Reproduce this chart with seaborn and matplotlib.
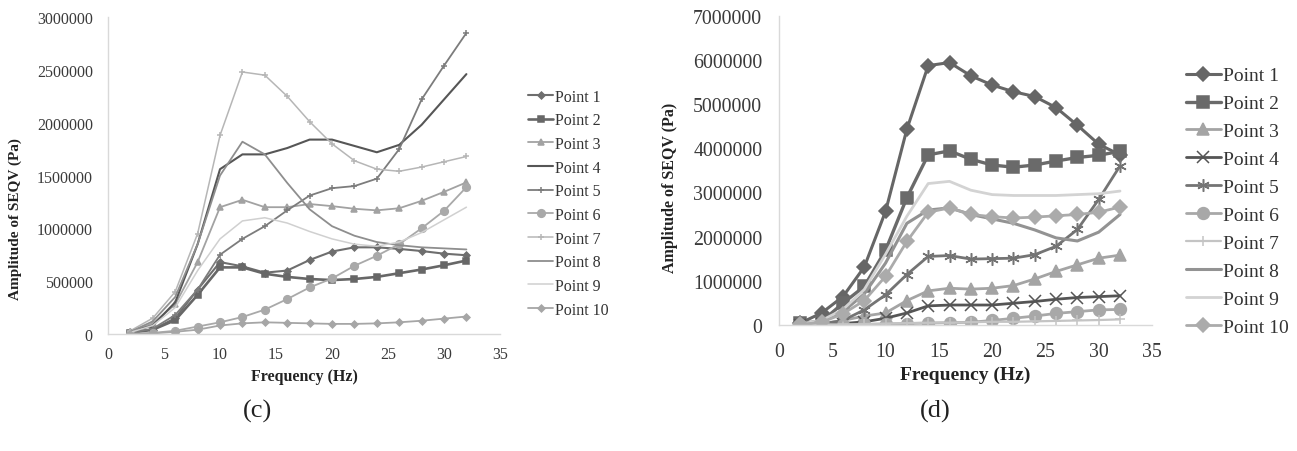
"""
Amplitude of SEQV vs frequency at ten measuring points, panels (c) and (d).
"""

import numpy as np
import pandas as pd
import matplotlib
matplotlib.use("Agg")
import matplotlib.pyplot as plt
import seaborn as sns

# ---------------------------------------------------------------- data
freq = [2, 4, 6, 8, 10, 12, 14, 16, 18, 20, 22, 24, 26, 28, 30, 32]
names = [f"Point {i}" for i in range(1, 11)]

# panel (c)
c_p1 = [20000, 40000, 150000, 420000, 680000, 640000, 580000, 600000, 700000, 780000, 820000, 820000, 805000, 785000, 760000, 745000]
c_p2 = [10000, 40000, 130000, 370000, 630000, 630000, 570000, 540000, 520000, 510000, 520000, 540000, 575000, 610000, 650000, 695000]
c_p3 = [20000, 100000, 280000, 680000, 1200000, 1270000, 1200000, 1200000, 1230000, 1210000, 1185000, 1170000, 1190000, 1260000, 1345000, 1435000]
c_p4 = [20000, 80000, 300000, 850000, 1560000, 1700000, 1700000, 1760000, 1840000, 1840000, 1780000, 1720000, 1790000, 1980000, 2220000, 2460000]
c_p5 = [10000, 50000, 180000, 420000, 750000, 900000, 1020000, 1170000, 1310000, 1380000, 1400000, 1470000, 1750000, 2220000, 2540000, 2850000]
c_p6 = [0, 10000, 30000, 70000, 110000, 160000, 230000, 330000, 440000, 525000, 645000, 740000, 850000, 1000000, 1165000, 1390000]
c_p7 = [30000, 150000, 400000, 950000, 1880000, 2480000, 2450000, 2250000, 2010000, 1800000, 1640000, 1560000, 1540000, 1580000, 1630000, 1680000]
c_p8 = [20000, 120000, 350000, 850000, 1500000, 1820000, 1700000, 1430000, 1180000, 1020000, 930000, 870000, 840000, 820000, 810000, 800000]
c_p9 = [15000, 80000, 250000, 600000, 900000, 1070000, 1100000, 1050000, 970000, 900000, 850000, 830000, 870000, 960000, 1080000, 1200000]
c_p10 = [0, 5000, 20000, 40000, 80000, 100000, 110000, 105000, 100000, 95000, 95000, 100000, 110000, 125000, 145000, 165000]

# panel (d)
d_p1 = [40000, 270000, 640000, 1310000, 2570000, 4430000, 5870000, 5940000, 5640000, 5430000, 5280000, 5170000, 4920000, 4520000, 4090000, 3850000]
d_p2 = [40000, 75000, 490000, 870000, 1690000, 2880000, 3850000, 3940000, 3750000, 3620000, 3570000, 3620000, 3710000, 3790000, 3840000, 3930000]
d_p3 = [10000, 30000, 100000, 200000, 270000, 550000, 770000, 830000, 810000, 830000, 890000, 1040000, 1210000, 1360000, 1510000, 1580000]
d_p4 = [0, 10000, 30000, 70000, 150000, 270000, 430000, 450000, 450000, 450000, 490000, 530000, 580000, 620000, 640000, 660000]
d_p5 = [0, 20000, 100000, 340000, 680000, 1140000, 1550000, 1570000, 1490000, 1500000, 1510000, 1590000, 1780000, 2160000, 2840000, 3600000]
d_p6 = [0, 0, 0, 10000, 20000, 30000, 40000, 50000, 60000, 100000, 150000, 200000, 260000, 300000, 340000, 350000]
d_p7 = [0, 5000, 10000, 20000, 30000, 40000, 50000, 50000, 60000, 70000, 70000, 80000, 90000, 100000, 110000, 125000]
d_p8 = [10000, 80000, 300000, 700000, 1400000, 2300000, 2600000, 2650000, 2500000, 2400000, 2300000, 2150000, 1970000, 1900000, 2100000, 2500000]
d_p9 = [20000, 100000, 350000, 800000, 1600000, 2460000, 3200000, 3250000, 3050000, 2950000, 2930000, 2930000, 2930000, 2950000, 2970000, 3030000]
d_p10 = [10000, 60000, 250000, 550000, 1100000, 1890000, 2550000, 2650000, 2500000, 2450000, 2420000, 2440000, 2470000, 2500000, 2550000, 2670000]

panel_c = [c_p1, c_p2, c_p3, c_p4, c_p5, c_p6, c_p7, c_p8, c_p9, c_p10]
panel_d = [d_p1, d_p2, d_p3, d_p4, d_p5, d_p6, d_p7, d_p8, d_p9, d_p10]

# ---------------------------------------------------------------- styles
c_colors = ["#6e6e6e", "#676767", "#a2a2a2", "#565656", "#7c7c7c",
            "#a9a9a9", "#b6b6b6", "#8e8e8e", "#d0d0d0", "#a6a6a6"]
c_markers = ["D", "s", "^", "", "+", "o", "+", "", "", "D"]
c_msize = [3.5, 5, 5, 0, 4, 5.5, 4, 0, 0, 3.5]
c_lw = [1.5, 1.9, 1.3, 1.5, 1.3, 1.3, 1.1, 1.3, 1.1, 1.3]

d_colors = ["#666666", "#6a6a6a", "#a4a4a4", "#555555", "#747474",
            "#a8a8a8", "#c4c4c4", "#939393", "#d3d3d3", "#ababab"]
d_markers = ["D", "s", "^", "x", (6, 2, 0), "o", "+", "", "", "D"]
d_msize = [7, 9, 8, 8, 9, 8.5, 7, 0, 0, 7]
d_lw = [2.2, 2.4, 2.0, 2.0, 2.0, 2.0, 1.6, 2.2, 2.0, 2.0]


def to_long(series):
    rows = []
    for name, vals in zip(names, series):
        for f, v in zip(freq, vals):
            rows.append({"Frequency": f, "Amplitude": v, "Series": name})
    return pd.DataFrame(rows)


def draw_panel(ax, series, colors, markers, msize, lw, ymax, ystep,
               fs_tick, xpad, ypad, fs_lab, fs_leg, leg_space, handle_len):
    df = to_long(series)
    for i, name in enumerate(names):
        sub = df[df["Series"] == name]
        sns.lineplot(data=sub, x="Frequency", y="Amplitude", ax=ax,
                     color=colors[i], linewidth=lw[i],
                     marker=markers[i] if markers[i] else None,
                     markersize=msize[i], markeredgewidth=1.1,
                     markeredgecolor=colors[i], label=name)
    ax.set_xlim(0, 35)
    ax.set_ylim(0, ymax)
    ax.set_xticks(np.arange(0, 36, 5))
    yt = np.arange(0, ymax + 1, ystep)
    ax.set_yticks(yt)
    ax.set_yticklabels([f"{int(t)}" for t in yt])
    ax.tick_params(length=0, labelsize=fs_tick, colors="#3a3a3a")
    ax.tick_params(axis="x", pad=xpad)
    ax.tick_params(axis="y", pad=ypad)
    for s in ["top", "right"]:
        ax.spines[s].set_visible(False)
    for s in ["left", "bottom"]:
        ax.spines[s].set_color("#d9d9d9")
        ax.spines[s].set_linewidth(1.0)
    ax.set_xlabel("Frequency (Hz)", fontsize=fs_lab[0], fontweight="bold", color="#222222")
    ax.set_ylabel("Amplitude of SEQV (Pa)", fontsize=fs_lab[1], fontweight="bold", color="#222222")
    ax.grid(False)
    leg = ax.legend(loc="upper left", frameon=False, fontsize=fs_leg,
                    handlelength=handle_len, handletextpad=0.1,
                    labelspacing=leg_space, borderaxespad=0)
    for t in leg.get_texts():
        t.set_color("#333333")
    return leg


sns.set_theme(style="white")
plt.rcParams["font.family"] = ["Liberation Serif", "DejaVu Serif"]

fig = plt.figure(figsize=(12.97, 4.52), dpi=100)
ax_c = fig.add_axes([0.0833, 0.259, 0.3022, 0.701])
ax_d = fig.add_axes([0.6006, 0.279, 0.2876, 0.684])

leg_c = draw_panel(ax_c, panel_c, c_colors, c_markers, c_msize, c_lw,
                   3000000, 500000, 11.5, 9, 11, (11.5, 11), 11.5, 0.48, 1.6)
leg_d = draw_panel(ax_d, panel_d, d_colors, d_markers, d_msize, d_lw,
                   7000000, 1000000, 14.3, 12, 12, (14, 11.5), 14, 0.53, 1.8)

leg_c.set_bbox_to_anchor((1.055, 0.794), transform=ax_c.transAxes)
leg_d.set_bbox_to_anchor((1.07, 0.86), transform=ax_d.transAxes)

# axis title placement as in the source figure (slightly below centre)
ax_c.yaxis.set_label_coords(-0.219, 0.366)
ax_c.xaxis.set_label_coords(0.5, -0.107)
ax_d.yaxis.set_label_coords(-0.271, 0.446)
ax_d.xaxis.set_label_coords(0.5, -0.133)

fig.text(258 / 1297, 1 - 411 / 452, "(c)", fontsize=19, ha="center", va="center", color="#222222")
fig.text(935 / 1297, 1 - 411 / 452, "(d)", fontsize=19, ha="center", va="center", color="#222222")

fig.savefig("out.png", dpi=100)
